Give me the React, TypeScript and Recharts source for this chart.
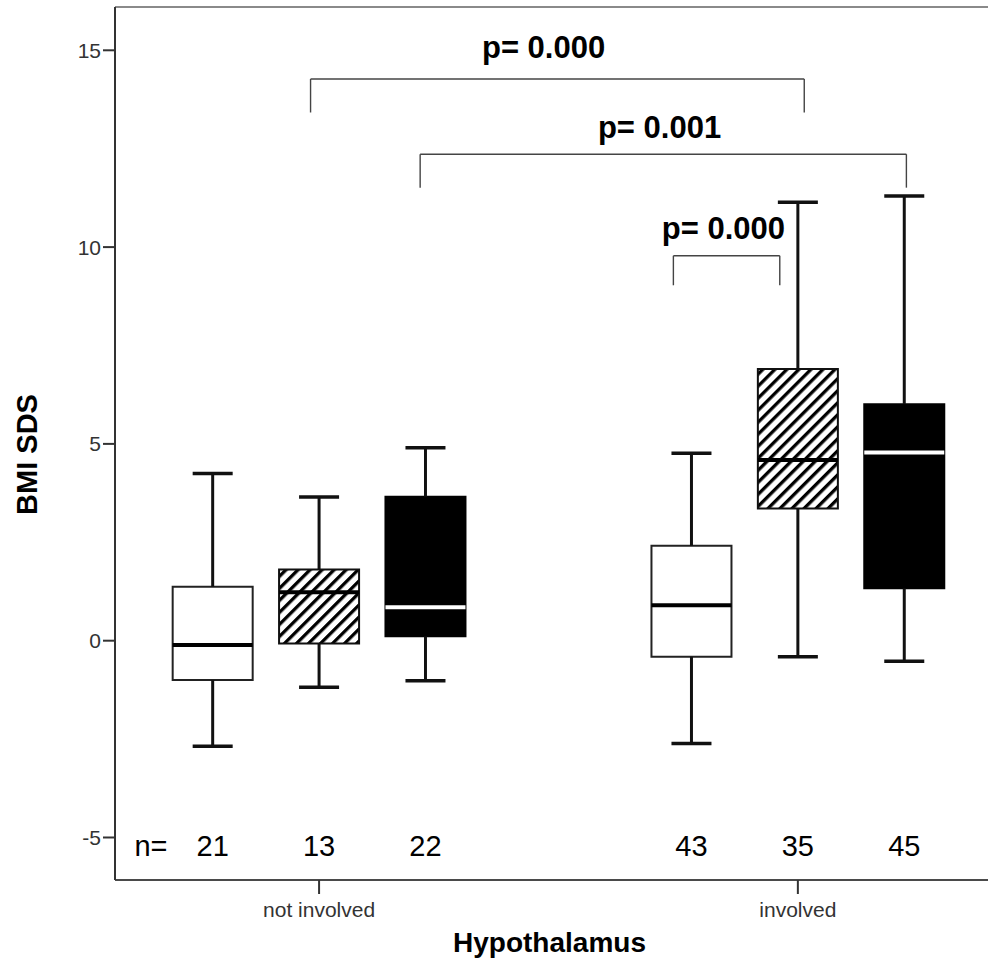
import React from 'react';
import { ComposedChart, XAxis, YAxis, Scatter, ReferenceArea, ReferenceLine } from 'recharts';

// ---- data ----
const groups = ['not involved', 'involved'];
const seriesNames = ['open', 'hatched', 'filled'];
const sampleSizes = [[21, 13, 22], [43, 35, 45]];
const whiskerLow = [[-2.68, -1.18, -1.02], [-2.61, -0.41, -0.52]];
const quartile1 = [[-1.0, -0.07, 0.11], [-0.41, 3.36, 1.33]];
const medians = [[-0.11, 1.23, 0.85], [0.9, 4.59, 4.78]];
const quartile3 = [[1.37, 1.81, 3.66], [2.41, 6.9, 6.01]];
const whiskerHigh = [[4.25, 3.65, 4.9], [4.76, 11.14, 11.3]];
const yTicks = [-5, 0, 5, 10, 15];

// significance annotations (data coordinates)
const pLabels = ['p= 0.000', 'p= 0.001', 'p= 0.000'];
const pLabelX = [4.11, 5.2, 5.8];
const pLabelY = [14.8, 12.77, 10.21];
const bracketStart = [1.92, 2.95, 5.33];
const bracketEnd = [6.56, 7.52, 6.33];
const bracketTop = [14.27, 12.36, 9.78];
const bracketFoot = [13.42, 11.51, 9.03];

const nPrefix = 'n=';
const nPrefixX = 0.42;
const nLabelY = -5.47;

// ---- layout ----
const X_MIN = 0.082;
const X_MAX = 8.287;
const Y_MIN = -6.08;
const Y_MAX = 16.1;
const GROUP_STEP = 4.5;
const BOX_HALF = 0.376;
const CAP_HALF = 0.188;

const FONT = '"Liberation Sans", Arial, Helvetica, sans-serif';

const posOf = (g: number, s: number) => 1 + g * GROUP_STEP + s;

const styles: Record<string, { fill: string; stroke: string; median: string }> = {
  open: { fill: '#ffffff', stroke: '#222222', median: '#000000' },
  hatched: { fill: 'url(#hatch)', stroke: '#111111', median: '#000000' },
  filled: { fill: '#000000', stroke: '#000000', median: '#ffffff' },
};

type Box = {
  pos: number;
  series: string;
  n: number;
  lo: number;
  q1: number;
  med: number;
  q3: number;
  hi: number;
};

const boxes: Box[] = [];
groups.forEach((_, g) => {
  seriesNames.forEach((s, i) => {
    boxes.push({
      pos: posOf(g, i),
      series: s,
      n: sampleSizes[g][i],
      lo: whiskerLow[g][i],
      q1: quartile1[g][i],
      med: medians[g][i],
      q3: quartile3[g][i],
      hi: whiskerHigh[g][i],
    });
  });
});

const groupCenters = groups.map((_, g) => posOf(g, 1));

const medianData = boxes.map((b) => ({ x: b.pos, y: b.med, series: b.series }));
const nData = [
  { x: nPrefixX, y: nLabelY, label: nPrefix },
  ...boxes.map((b) => ({ x: b.pos, y: nLabelY, label: String(b.n) })),
];
const pData = pLabels.map((label, i) => ({ x: pLabelX[i], y: pLabelY[i], label }));

const MedianShape = (props: any) => {
  const { cx, cy, payload } = props;
  const st = styles[payload.series];
  return (
    <line x1={cx - 40} x2={cx + 40} y1={cy} y2={cy} stroke={st.median} strokeWidth={4} />
  );
};

const NShape = (props: any) => {
  const { cx, cy, payload } = props;
  return (
    <text x={cx} y={cy} textAnchor="middle" fontSize={29} fill="#000" fontFamily={FONT}>
      {payload.label}
    </text>
  );
};

const PShape = (props: any) => {
  const { cx, cy, payload } = props;
  return (
    <text x={cx} y={cy} textAnchor="middle" fontSize={31} fontWeight="bold" fill="#000" fontFamily={FONT}>
      {payload.label}
    </text>
  );
};

const YTitle = (props: any) => {
  const vb = props.viewBox || { x: 0, y: 7, width: 115, height: 873 };
  const x = vb.x + 37;
  const y = vb.y + vb.height / 2 + 11;
  return (
    <text
      x={x}
      y={y}
      transform={`rotate(-90, ${x}, ${y})`}
      textAnchor="middle"
      fontSize={29}
      fontWeight="bold"
      fill="#000"
      fontFamily={FONT}
    >
      BMI SDS
    </text>
  );
};

const XTitle = (props: any) => {
  const vb = props.viewBox || { x: 115, y: 880, width: 873, height: 91 };
  return (
    <text
      x={vb.x + vb.width / 2 - 2}
      y={vb.y + 72}
      textAnchor="middle"
      fontSize={28}
      fontWeight="bold"
      fill="#000"
      fontFamily={FONT}
    >
      Hypothalamus
    </text>
  );
};

export default function App() {
  return (
    <div style={{ position: 'absolute', left: 0, top: 0, width: 988, height: 971 }}>
      <svg width={0} height={0} style={{ position: 'absolute' }}>
        <defs>
          <pattern
            id="hatch"
            patternUnits="userSpaceOnUse"
            width={8.5}
            height={8.5}
            patternTransform="rotate(45)"
          >
            <rect x={0} y={0} width={8.5} height={8.5} fill="#ffffff" />
            <rect x={0} y={0} width={3.3} height={8.5} fill="#000000" />
          </pattern>
        </defs>
      </svg>
      <ComposedChart
        width={988}
        height={971}
        margin={{ top: 7, right: 0, bottom: 0, left: 0 }}
        style={{ fontFamily: FONT }}
      >
        <XAxis
          type="number"
          dataKey="x"
          domain={[X_MIN, X_MAX]}
          allowDataOverflow
          ticks={groupCenters}
          tickFormatter={(v: number) => {
            const i = groupCenters.findIndex((c) => Math.abs(c - v) < 1e-6);
            return i >= 0 ? groups[i] : '';
          }}
          height={91}
          axisLine={{ stroke: '#4a4a4a', strokeWidth: 2 }}
          tickLine={{ stroke: '#333', strokeWidth: 2 }}
          tickSize={14}
          tickMargin={8}
          tick={{ fill: '#333', fontSize: 21, fontFamily: FONT }}
          label={(p: any) => <XTitle {...p} />}
        />
        <YAxis
          type="number"
          dataKey="y"
          domain={[Y_MIN, Y_MAX]}
          allowDataOverflow
          ticks={yTicks}
          width={115}
          axisLine={{ stroke: '#333', strokeWidth: 2 }}
          tickLine={{ stroke: '#333', strokeWidth: 2 }}
          tickSize={12}
          tickMargin={2}
          tick={{ fill: '#333', fontSize: 21, fontFamily: FONT }}
          label={(p: any) => <YTitle {...p} />}
        />

        <ReferenceLine y={Y_MAX} stroke="#8a8a8a" strokeWidth={2} />

        {boxes.map((b, i) => (
          <ReferenceArea
            key={`box-${i}`}
            x1={b.pos - BOX_HALF}
            x2={b.pos + BOX_HALF}
            y1={b.q1}
            y2={b.q3}
            fill={styles[b.series].fill}
            fillOpacity={1}
            stroke={styles[b.series].stroke}
            strokeWidth={2}
          />
        ))}

        {boxes.map((b, i) => (
          <ReferenceLine
            key={`wu-${i}`}
            segment={[{ x: b.pos, y: b.q3 }, { x: b.pos, y: b.hi }]}
            stroke="#111"
            strokeWidth={3}
          />
        ))}
        {boxes.map((b, i) => (
          <ReferenceLine
            key={`wl-${i}`}
            segment={[{ x: b.pos, y: b.lo }, { x: b.pos, y: b.q1 }]}
            stroke="#111"
            strokeWidth={3}
          />
        ))}
        {boxes.map((b, i) => (
          <ReferenceLine
            key={`cu-${i}`}
            segment={[{ x: b.pos - CAP_HALF, y: b.hi }, { x: b.pos + CAP_HALF, y: b.hi }]}
            stroke="#111"
            strokeWidth={3.5}
          />
        ))}
        {boxes.map((b, i) => (
          <ReferenceLine
            key={`cl-${i}`}
            segment={[{ x: b.pos - CAP_HALF, y: b.lo }, { x: b.pos + CAP_HALF, y: b.lo }]}
            stroke="#111"
            strokeWidth={3.5}
          />
        ))}

        {pLabels.map((_, i) => (
          <ReferenceLine
            key={`bh-${i}`}
            segment={[{ x: bracketStart[i], y: bracketTop[i] }, { x: bracketEnd[i], y: bracketTop[i] }]}
            stroke="#444"
            strokeWidth={1.4}
          />
        ))}
        {pLabels.map((_, i) => (
          <ReferenceLine
            key={`bl-${i}`}
            segment={[{ x: bracketStart[i], y: bracketTop[i] }, { x: bracketStart[i], y: bracketFoot[i] }]}
            stroke="#444"
            strokeWidth={1.4}
          />
        ))}
        {pLabels.map((_, i) => (
          <ReferenceLine
            key={`br-${i}`}
            segment={[{ x: bracketEnd[i], y: bracketTop[i] }, { x: bracketEnd[i], y: bracketFoot[i] }]}
            stroke="#444"
            strokeWidth={1.4}
          />
        ))}

        <Scatter data={medianData} dataKey="y" isAnimationActive={false} shape={<MedianShape />} />
        <Scatter data={nData} dataKey="y" isAnimationActive={false} shape={<NShape />} />
        <Scatter data={pData} dataKey="y" isAnimationActive={false} shape={<PShape />} />
      </ComposedChart>
    </div>
  );
}
